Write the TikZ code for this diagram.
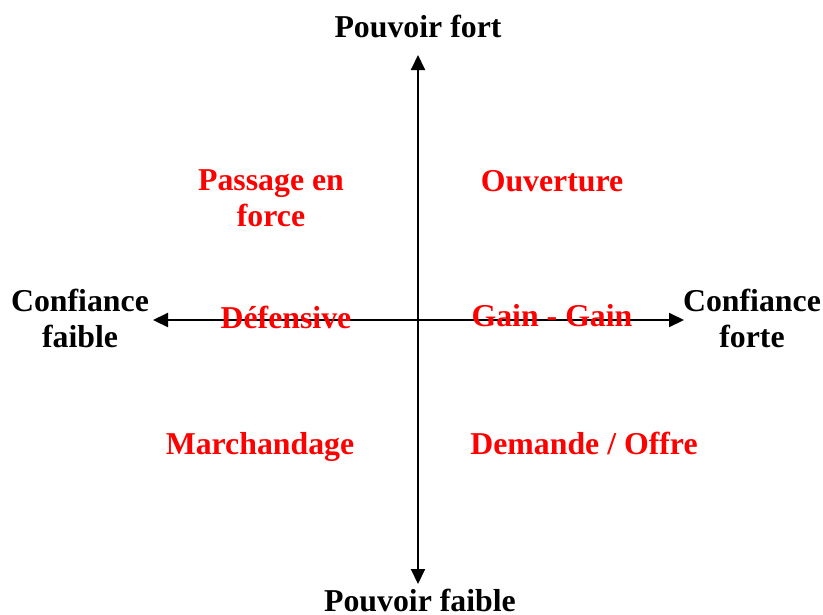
\documentclass[tikz,border=0pt]{standalone}
\usepackage{fontspec}
\setmainfont{Liberation Serif}
\usetikzlibrary{arrows.meta}
\begin{document}
\begin{tikzpicture}[x=1pt,y=-1pt,
  lbl/.style={font=\fontsize{31.8}{36}\selectfont\bfseries, inner sep=0pt, align=center},
  quad/.style={lbl, text=red},
  axis/.style={line width=2pt, -{Triangle[length=15pt,width=14pt]}}]
\useasboundingbox (0,0) rectangle (823,614);
\coordinate (c) at (418,320);
\coordinate (top) at (418,55);
\coordinate (bot) at (418,584);
\coordinate (left) at (153,320);
\coordinate (right) at (684,320);
\draw[axis] (c) -- (top);
\draw[axis] (c) -- (bot);
\draw[axis] (c) -- (left);
\draw[axis] (c) -- (right);
\node[lbl, anchor=base] (pf) at (418,37) {Pouvoir fort};
\node[lbl, anchor=base] (pfa) at (420,611) {Pouvoir faible};
\node[lbl] (cfa) at (80,318) {Confiance\\faible};
\node[lbl] (cfo) at (752,318) {Confiance\\forte};
\node[quad] (pas) at (271,198) {Passage en\\force};
\node[quad, anchor=base] (ouv) at (552,191) {Ouverture};
\node[quad, anchor=base] (def) at (286,328) {Défensive};
\node[quad, anchor=base] (gain) at (552,326) {Gain - Gain};
\node[quad, anchor=base] (mar) at (260,454) {Marchandage};
\node[quad, anchor=base] (dem) at (584,454) {Demande / Offre};
\end{tikzpicture}
\end{document}
